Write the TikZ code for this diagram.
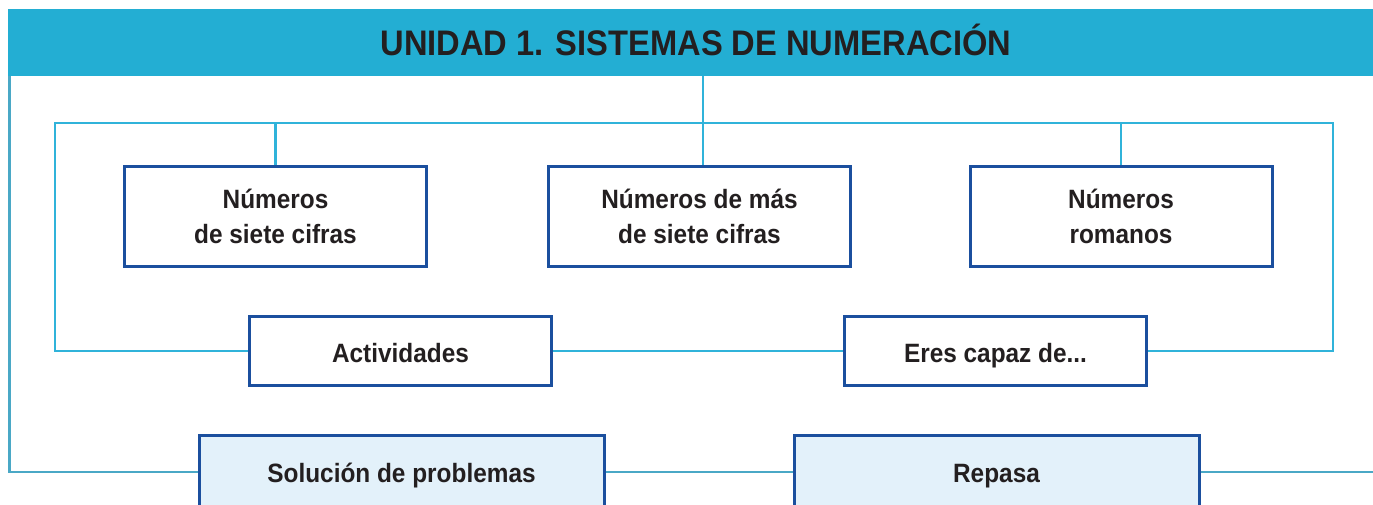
\documentclass[tikz,border=0pt]{standalone}
\usepackage{fontspec}
\setmainfont{Liberation Sans}[FakeStretch=0.92]
\definecolor{banner}{HTML}{23AED3}
\definecolor{outerline}{HTML}{4AA8C6}
\definecolor{innerline}{HTML}{30B3DA}
\definecolor{boxborder}{HTML}{1B4F9E}
\definecolor{boxfill}{HTML}{E3F1FA}
\definecolor{txt}{HTML}{231F20}
\begin{document}
\begin{tikzpicture}[x=1pt,y=-1pt,
  topicbox/.style={draw=boxborder, line width=3pt, fill=white, minimum width=302pt, minimum height=100pt, inner sep=0pt, align=center, text=txt, font=\bfseries\fontsize{26.5}{35}\selectfont},
  smallbox/.style={topicbox, minimum height=69pt, text height=23.4pt, text depth=0pt},
  bottombox/.style={topicbox, fill=boxfill, minimum width=405pt, minimum height=74pt, text height=21.4pt, text depth=0pt},
  outerconn/.style={draw=outerline, line width=2.5pt},
  innerconn/.style={draw=innerline, line width=2.5pt}]
\useasboundingbox (0,0) rectangle (1373,504);
\fill[white] (0,0) rectangle (1373,504);
% banner
\node[fill=banner, minimum width=1365pt, minimum height=67pt, inner sep=0pt, anchor=north west] (banner) at (8,9) {};
\node[anchor=base, text=txt, font=\bfseries\fontsize{35.5}{40}\selectfont] (title) at (696,55) {UNIDAD 1. SISTEMAS DE NUMERACIÓN};
% boxes
\node[topicbox] (n7) at (275.5,216.5) {Números\\de siete cifras};
\node[topicbox] (nmas) at (699.5,216.5) {Números de más\\de siete cifras};
\node[topicbox] (nrom) at (1121,216.5) {Números\\romanos};
\node[smallbox] (act) at (400.5,351) {Actividades};
\node[smallbox] (eres) at (995.5,351) {Eres capaz de...};
\node[bottombox] (sol) at (401.5,472) {Solución de problemas};
\node[bottombox] (rep) at (996.5,472) {Repasa};
% coordinates
\coordinate (oL) at (9.5,76);
\coordinate (oLb) at (oL |- sol.west);
\coordinate (oR) at (1373,472);
\coordinate (iTL) at (55,123);
\coordinate (iTR) at (1333,123);
\coordinate (iBL) at (iTL |- act.west);
\coordinate (iBR) at (iTR |- eres.east);
\coordinate (mTop) at (703,76);
\coordinate (mBot) at (mTop |- nmas.north);
\coordinate (s1) at (n7.north |- iTL);
\coordinate (s3) at (nrom.north |- iTL);
% connectors
\draw[outerconn] (oL) -- (oLb) -- (sol.west);
\draw[outerconn] (sol.east) -- (rep.west);
\draw[outerconn] (rep.east) -- (oR);
\draw[innerconn] (act.west) -- (iBL) -- (iTL) -- (iTR) -- (iBR) -- (eres.east);
\draw[innerconn] (act.east) -- (eres.west);
\draw[innerconn] (mTop) -- (mBot);
\draw[innerconn] (s1) -- (n7.north);
\draw[innerconn] (s3) -- (nrom.north);
\end{tikzpicture}
\end{document}
